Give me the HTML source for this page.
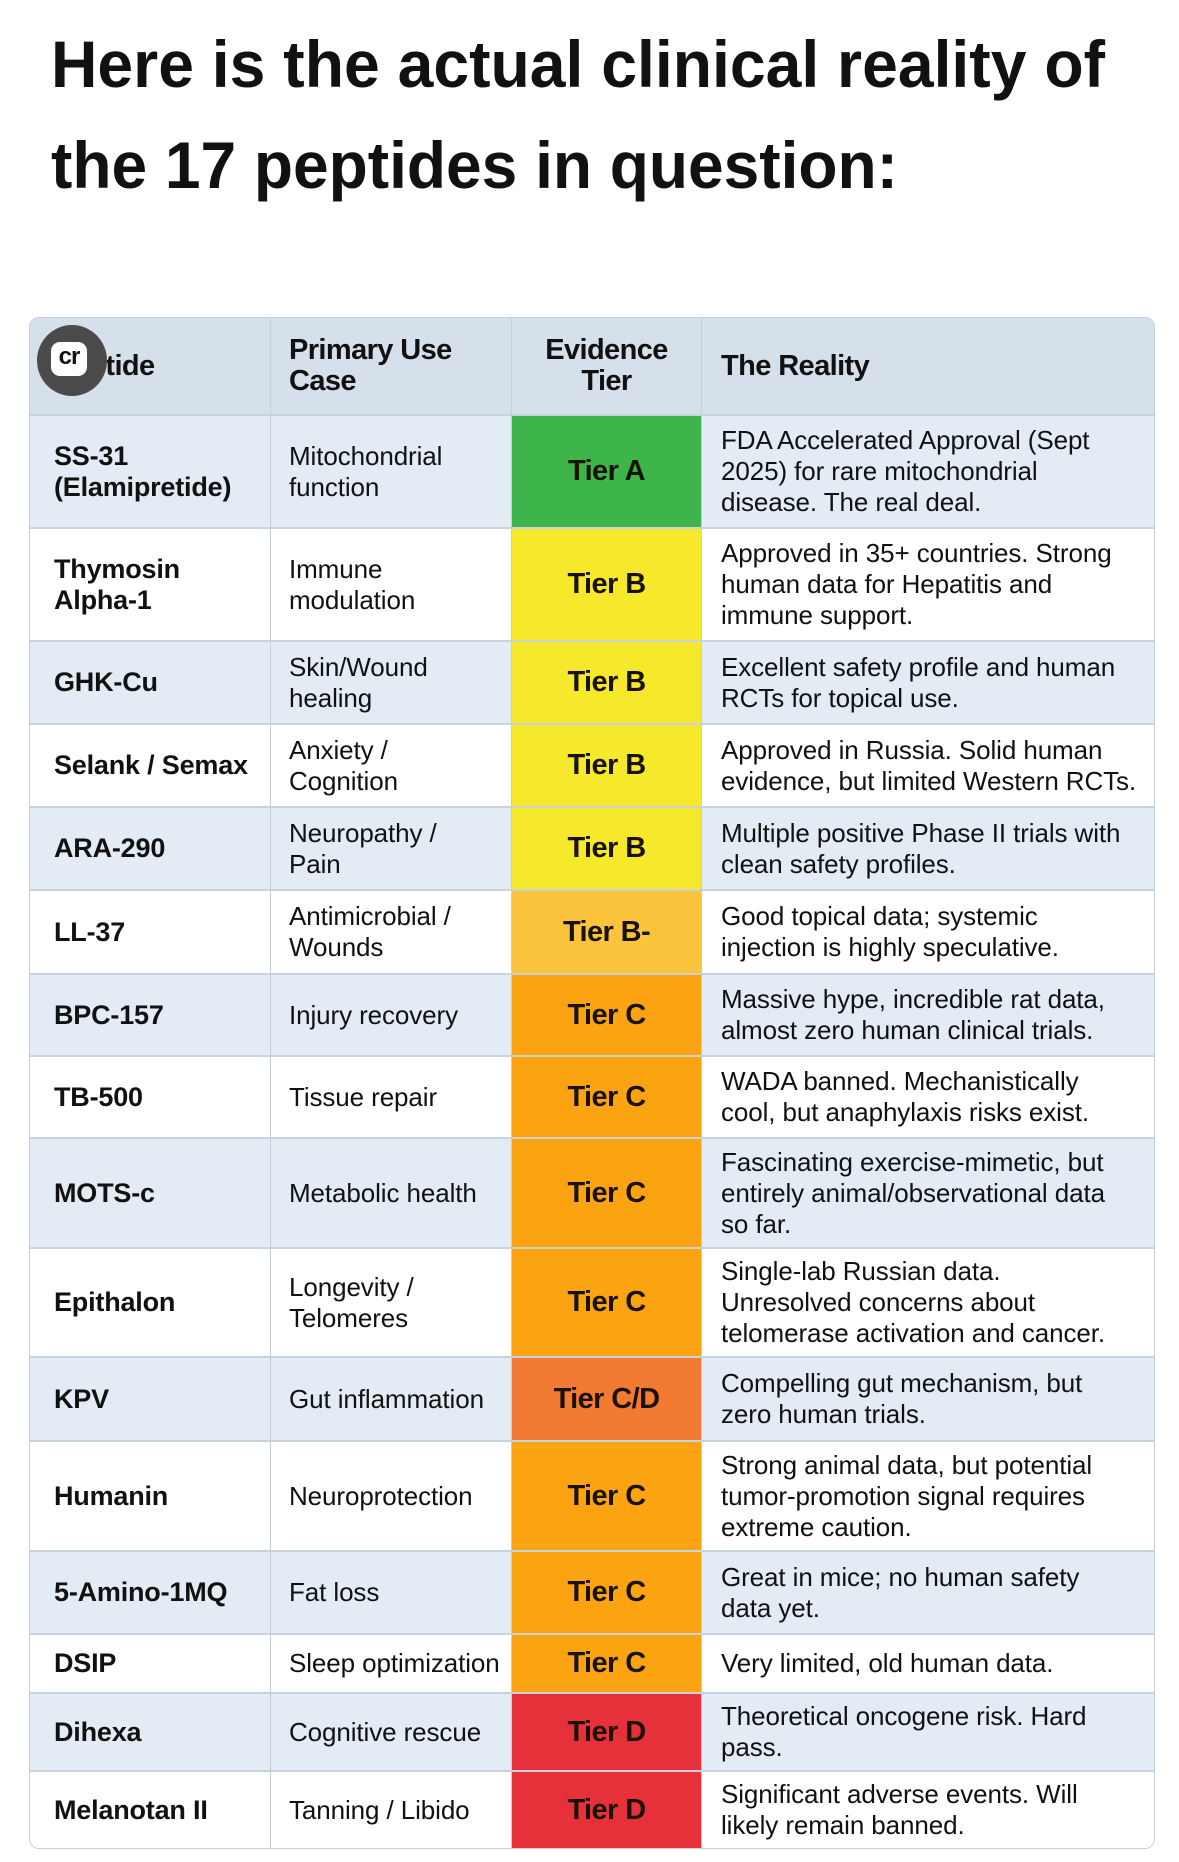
<!DOCTYPE html>
<html><head><meta charset="utf-8">
<style>
html,body{margin:0;padding:0;background:#fff;}
body{width:1179px;height:1862px;position:relative;overflow:hidden;font-family:"Liberation Sans",sans-serif;color:#111;}
#tbl{position:absolute;left:29px;top:317px;width:1126px;height:1532px;border:1px solid #c5cfda;border-radius:10px;overflow:hidden;box-sizing:border-box;}
.cell{position:absolute;box-sizing:border-box;display:flex;align-items:center;font-size:26px;line-height:31px;letter-spacing:-0.1px;border-right:1px solid #c3ceda;border-bottom:2px solid #c9d3de;}
.hd{font-weight:bold;font-size:29px;line-height:31px;letter-spacing:-0.6px;}
.tier{justify-content:center;font-weight:bold;font-size:29px;letter-spacing:-0.6px;color:#1a1200;}
</style></head>
<body>
<svg width="1179" height="230" style="position:absolute;left:0;top:0">
<text x="51" y="87" font-family="Liberation Sans, sans-serif" font-weight="bold" font-size="66" textLength="1054" lengthAdjust="spacingAndGlyphs" fill="#111">Here is the actual clinical reality of</text>
<text x="51" y="188" font-family="Liberation Sans, sans-serif" font-weight="bold" font-size="66" textLength="847" lengthAdjust="spacingAndGlyphs" fill="#111">the 17 peptides in question:</text>
</svg>
<div id="tbl"></div>
<div style="position:absolute;left:37px;top:325px;width:70px;height:71px;border-radius:50%;background:#4a4a4a;">
<div style="position:absolute;left:14px;top:17px;width:36px;height:34px;background:#fff;border-radius:9px;font:bold 24px 'Liberation Sans',sans-serif;line-height:30px;text-align:center;color:#111;letter-spacing:-1px;">cr</div>
</div>
<script>
const peptides=["SS-31<br>(Elamipretide)","Thymosin<br>Alpha-1","GHK-Cu","Selank / Semax","ARA-290","LL-37","BPC-157","TB-500","MOTS-c","Epithalon","KPV","Humanin","5-Amino-1MQ","DSIP","Dihexa","Melanotan II"];
const uses=["Mitochondrial<br>function","Immune<br>modulation","Skin/Wound<br>healing","Anxiety /<br>Cognition","Neuropathy /<br>Pain","Antimicrobial /<br>Wounds","Injury recovery","Tissue repair","Metabolic health","Longevity /<br>Telomeres","Gut inflammation","Neuroprotection","Fat loss","Sleep optimization","Cognitive rescue","Tanning / Libido"];
const tiers=["A","B","B","B","B","B-","C","C","C","C","C/D","C","C","C","D","D"];
const reality=["FDA Accelerated Approval (Sept<br>2025) for rare mitochondrial<br>disease. The real deal.","Approved in 35+ countries. Strong<br>human data for Hepatitis and<br>immune support.","Excellent safety profile and human<br>RCTs for topical use.","Approved in Russia. Solid human<br>evidence, but limited Western RCTs.","Multiple positive Phase II trials with<br>clean safety profiles.","Good topical data; systemic<br>injection is highly speculative.","Massive hype, incredible rat data,<br>almost zero human clinical trials.","WADA banned. Mechanistically<br>cool, but anaphylaxis risks exist.","Fascinating exercise-mimetic, but<br>entirely animal/observational data<br>so far.","Single-lab Russian data.<br>Unresolved concerns about<br>telomerase activation and cancer.","Compelling gut mechanism, but<br>zero human trials.","Strong animal data, but potential<br>tumor-promotion signal requires<br>extreme caution.","Great in mice; no human safety<br>data yet.","Very limited, old human data.","Theoretical oncogene risk. Hard<br>pass.","Significant adverse events. Will<br>likely remain banned."];
const rowBounds=[415,528,641,724,807,890,974,1056,1138,1248,1357,1441,1551,1634,1693,1771,1849];
const tierColors={"A":"#3db54a","B":"#f6e82b","B-":"#fbc43c","C":"#fca312","C/D":"#f37a32","D":"#e6313b"};
const tbl=document.getElementById('tbl');
const T=317, colX=[0,241,482,672,1126], pads=[24,18,0,19];
function cell(x0,x1,y0,y1,html,cls,bg,pad,name){
  const d=document.createElement('div');
  d.className='cell '+cls;
  d.style.left=x0+'px';d.style.width=(x1-x0)+'px';
  d.style.top=y0+'px';d.style.height=(y1-y0)+'px';
  d.style.background=bg;d.style.paddingLeft=pad+'px';
  d.innerHTML=html;
  
  
  tbl.appendChild(d);
}
const hdr=["Peptide","Primary Use<br>Case","<div style='text-align:center;width:100%'>Evidence<br>Tier</div>","The Reality"];
for(let c=0;c<4;c++){
  cell(colX[c],colX[c+1],0,415-T,hdr[c],'hd','#d6e0eb',pads[c],'header-cell');
}
for(let r=0;r<peptides.length;r++){
  const y0=rowBounds[r]-T,y1=rowBounds[r+1]-T;
  const bg=r%2===0?'#e3ebf4':'#ffffff';
  cell(colX[0],colX[1],y0,y1,'<b style="font-size:27px;letter-spacing:-0.2px">'+peptides[r]+'</b>','',bg,pads[0],'peptide-name');
  cell(colX[1],colX[2],y0,y1,uses[r],'',bg,pads[1],'primary-use');
  cell(colX[2],colX[3],y0,y1,'Tier '+tiers[r],'tier',tierColors[tiers[r]],0,'evidence-tier');
  cell(colX[3],colX[4],y0,y1,reality[r],'',bg,pads[3],'reality-text');
}
</script>
</body></html>
